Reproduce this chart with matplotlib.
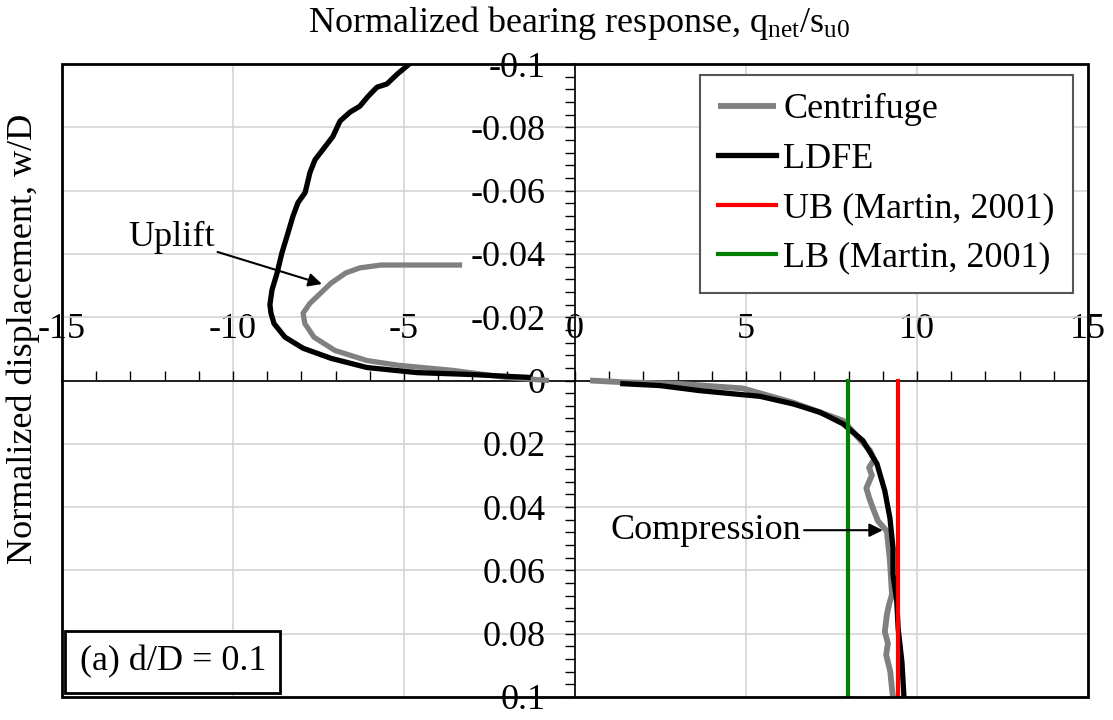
import numpy as np
import matplotlib
matplotlib.use('Agg')
import matplotlib.pyplot as plt
from matplotlib.patches import Rectangle
from matplotlib.ticker import MultipleLocator, FixedLocator

plt.rcParams['font.family'] = ['Liberation Serif', 'DejaVu Serif']
plt.rcParams['mathtext.fontset'] = 'custom'
plt.rcParams['mathtext.rm'] = 'Liberation Serif'

# uplift branch (negative q, negative w)
ldfe_up_q = [-4.88, -5.20, -5.50, -5.79, -6.05, -6.29, -6.58, -6.87, -7.08, -7.37, -7.60, -7.75,
             -7.89, -8.10, -8.25, -8.39, -8.57, -8.71, -8.86, -8.92, -8.89, -8.80, -8.48,
             -7.95, -7.13, -6.08, -4.62, -3.04, -1.37]
ldfe_up_w = [-0.0997, -0.0968, -0.0937, -0.0927, -0.0898, -0.0867, -0.0848, -0.082, -0.0771, -0.073,
             -0.0698, -0.0657, -0.0594, -0.0562, -0.0518, -0.0467, -0.0403, -0.034, -0.0286, -0.024,
             -0.0213, -0.018, -0.0137, -0.0102, -0.007, -0.0041, -0.0025, -0.0019, -0.001]
cent_up_q = [-3.30, -5.67, -6.29, -6.70, -7.13, -7.40, -7.75, -7.95, -7.90, -7.63, -7.02,
             -6.08, -5.15, -3.57, -2.02, -0.76]
cent_up_w = [-0.0365, -0.0365, -0.0356, -0.034, -0.0308, -0.028, -0.0244, -0.0213, -0.018, -0.0137, -0.0095,
             -0.0063, -0.0048, -0.0032, -0.001, 0.0]

# compression branch
ldfe_c_q = [1.40, 2.49, 3.65, 4.62, 5.41, 6.38, 7.16, 7.84, 8.42, 8.83, 9.06, 9.21, 9.30, 9.30,
            9.41, 9.45, 9.56, 9.62]
ldfe_c_w = [0.001, 0.0016, 0.0032, 0.0042, 0.005, 0.0074, 0.010, 0.0137, 0.019, 0.0263, 0.0349,
            0.0435, 0.053, 0.0613, 0.0698, 0.0784, 0.0889, 0.100]
cent_c_q = [0.44, 1.52, 2.98, 4.91, 6.38, 7.84, 8.63, 8.75, 8.60, 8.68, 8.52, 8.60, 8.71, 8.86,
            9.12, 9.21, 9.27, 9.18, 9.12, 9.06, 9.15, 9.10, 9.22, 9.27, 9.30]
cent_c_w = [0.0, 0.0006, 0.001, 0.0025, 0.007, 0.0127, 0.0222, 0.025, 0.0275, 0.030, 0.034, 0.037,
            0.0403, 0.0444, 0.0476, 0.0571, 0.0676, 0.071, 0.074, 0.0794, 0.083, 0.0867, 0.092,
            0.0975, 0.100]

ub_q = 9.44
lb_q = 7.98
bound_w = [0.0, 0.1]

xticks = [-15, -10, -5, 0, 5, 10, 15]
yticks = [-0.1, -0.08, -0.06, -0.04, -0.02, 0, 0.02, 0.04, 0.06, 0.08, 0.1]
ylabels = ['-0.1', '-0.08', '-0.06', '-0.04', '-0.02', '0', '0.02', '0.04', '0.06', '0.08', '0.1']

fs = 26
fig = plt.figure(figsize=(11.13, 7.2), dpi=100)
ax = fig.add_axes([0.0557, 0.032, 0.9218, 0.879])

gray = '#808080'
ax.plot(cent_up_q, cent_up_w, color=gray, lw=3.8, solid_capstyle='butt', zorder=3)
ax.plot(cent_c_q, cent_c_w, color=gray, lw=4.2, solid_capstyle='butt', zorder=3, label='Centrifuge')
ax.plot(ldfe_up_q, ldfe_up_w, color='black', lw=3.8, zorder=4)
ax.plot(ldfe_c_q, ldfe_c_w, color='black', lw=3.8, zorder=4, label='LDFE')
ax.plot([ub_q, ub_q], bound_w, color='red', lw=3, zorder=5, label='UB (Martin, 2001)')
ax.plot([lb_q, lb_q], bound_w, color='green', lw=3, zorder=5, label='LB (Martin, 2001)')

ax.set_xlim(-15, 15)
ax.set_ylim(0.1, -0.1)

# axes crossing at the origin
ax.spines['left'].set_position(('data', 0))
ax.spines['top'].set_position(('data', 0))
ax.spines['right'].set_visible(False)
ax.spines['bottom'].set_visible(False)
ax.spines['left'].set_linewidth(1.2)
ax.spines['top'].set_linewidth(1.2)
ax.xaxis.set_ticks_position('top')
ax.xaxis.set_label_position('top')
ax.yaxis.set_ticks_position('left')

ax.xaxis.set_major_locator(FixedLocator(xticks))
ax.xaxis.set_minor_locator(MultipleLocator(1))
ax.set_xticklabels([str(v) for v in xticks])
ax.yaxis.set_major_locator(FixedLocator(yticks))
ax.yaxis.set_minor_locator(MultipleLocator(0.004))
ax.set_yticklabels(ylabels)

ax.tick_params(axis='x', which='both', direction='out', length=7, width=1, labelsize=fs, pad=18)
ax.tick_params(axis='y', which='both', direction='out', length=7, width=1, labelsize=fs, pad=14)

ax.grid(True, which='major', color='#d4d4d4', lw=1.2, zorder=0)
ax.set_axisbelow(True)

# outer frame
ax.add_patch(Rectangle((0, 0), 1, 1, transform=ax.transAxes, fill=False,
                       edgecolor='black', lw=2, zorder=10, clip_on=False))

leg = ax.legend(loc='upper right', bbox_to_anchor=(0.985, 0.983), borderaxespad=0,
                fontsize=fs, frameon=True, fancybox=False, framealpha=1,
                handlelength=1.6, handletextpad=0.2, labelspacing=0.45, borderpad=0.5)
leg.get_frame().set_edgecolor('#555555')
leg.get_frame().set_linewidth(1.5)
leg.set_zorder(11)

ax.annotate('Uplift', xy=(-7.40, -0.0305), xytext=(-11.8, -0.0451), fontsize=fs,
            ha='center', va='center',
            arrowprops=dict(arrowstyle='-|>', color='black', lw=1.5, mutation_scale=20,
                            shrinkA=0, shrinkB=0))
ax.annotate('Compression', xy=(9.0, 0.0473), xytext=(3.83, 0.0473), fontsize=fs,
            ha='center', va='center', zorder=12,
            arrowprops=dict(arrowstyle='-|>', color='black', lw=1.5, mutation_scale=20,
                            shrinkA=0, shrinkB=0))

ax.text(0.108, 0.055, '(a) d/D = 0.1', transform=ax.transAxes, fontsize=fs,
        ha='center', va='center', zorder=12,
        bbox=dict(boxstyle='square,pad=0.4', facecolor='white', edgecolor='black', lw=2))

fig.text(0.52, 0.968, 'Normalized bearing response, q$\\mathregular{_{net}}$/s$\\mathregular{_{u0}}$',
         fontsize=fs, ha='center', va='center')
fig.text(0.021, 0.53, 'Normalized displacement, w/D', fontsize=fs, rotation=90,
         ha='center', va='center')

fig.savefig('out.png', dpi=100)
